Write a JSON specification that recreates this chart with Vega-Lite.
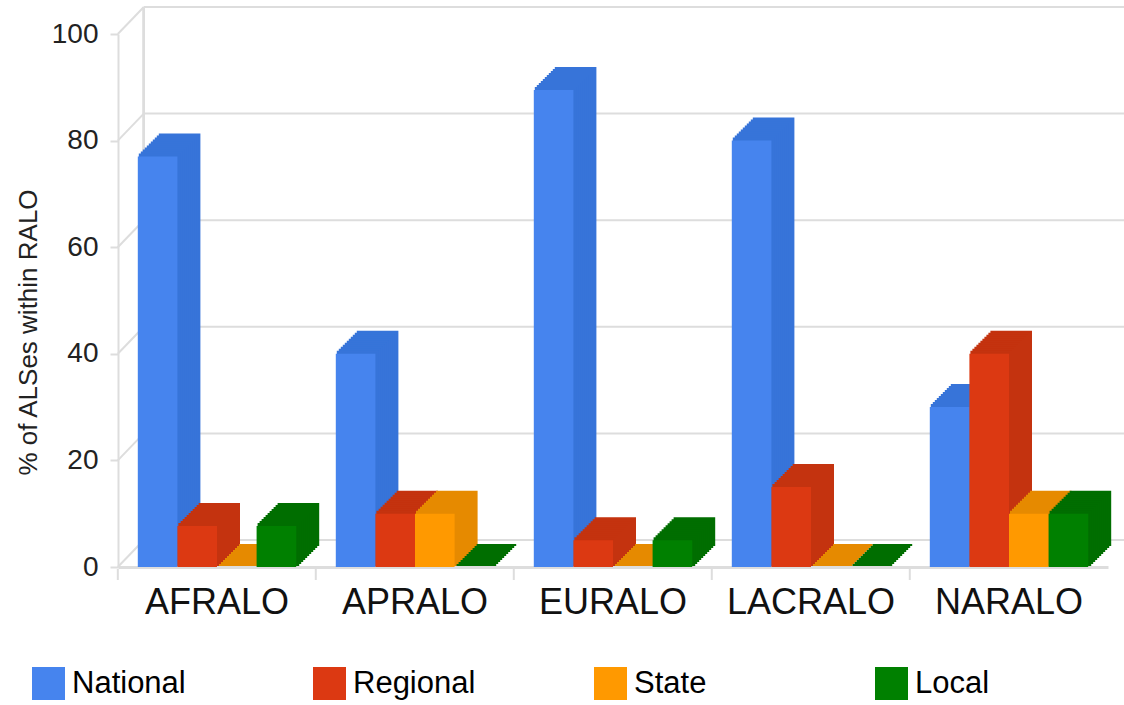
{
  "$schema": "https://vega.github.io/schema/vega-lite/v6.json",
  "width": 990,
  "height": 533,
  "autosize": {"type": "none"},
  "padding": {"left": 118, "top": 34, "right": 16, "bottom": 138},
  "background": "white",
  "config": {
    "font": "Liberation Sans",
    "view": {"stroke": null},
    "bar": {"strokeWidth": 2}
  },
  "datasets": {
    "bars": [
      {"ralo": "AFRALO", "type": "National", "pct": 77},
      {"ralo": "AFRALO", "type": "Regional", "pct": 7.7},
      {"ralo": "AFRALO", "type": "State", "pct": 0},
      {"ralo": "AFRALO", "type": "Local", "pct": 7.7},
      {"ralo": "APRALO", "type": "National", "pct": 40},
      {"ralo": "APRALO", "type": "Regional", "pct": 10},
      {"ralo": "APRALO", "type": "State", "pct": 10},
      {"ralo": "APRALO", "type": "Local", "pct": 0},
      {"ralo": "EURALO", "type": "National", "pct": 89.5},
      {"ralo": "EURALO", "type": "Regional", "pct": 5},
      {"ralo": "EURALO", "type": "State", "pct": 0},
      {"ralo": "EURALO", "type": "Local", "pct": 5},
      {"ralo": "LACRALO", "type": "National", "pct": 80},
      {"ralo": "LACRALO", "type": "Regional", "pct": 15},
      {"ralo": "LACRALO", "type": "State", "pct": 0},
      {"ralo": "LACRALO", "type": "Local", "pct": 0},
      {"ralo": "NARALO", "type": "National", "pct": 30},
      {"ralo": "NARALO", "type": "Regional", "pct": 40},
      {"ralo": "NARALO", "type": "State", "pct": 10},
      {"ralo": "NARALO", "type": "Local", "pct": 10}
    ],
    "grid": [{"v": 0}, {"v": 20}, {"v": 40}, {"v": 60}, {"v": 80}, {"v": 100}],
    "ralos": [{"ralo": "AFRALO"}, {"ralo": "APRALO"}, {"ralo": "EURALO"}, {"ralo": "LACRALO"}, {"ralo": "NARALO"}]
  },
  "layer": [
    {
      "data": {"name": "grid"},
      "mark": {"type": "rule", "color": "#dddddd", "strokeWidth": 2, "xOffset": 6, "x2Offset": 115, "yOffset": -27, "y2Offset": -27},
      "encoding": {
        "x": {"datum": "AFRALO", "bandPosition": 0, "type": "nominal", "title": null,
              "scale": {"domain": ["AFRALO", "APRALO", "EURALO", "LACRALO", "NARALO"], "paddingInner": 0.2, "paddingOuter": 0.1},
              "axis": {"bandPosition": 0.5, "labelAngle": 0, "labelFontSize": 36, "labelColor": "#111111", "labelPadding": 18,
                       "ticks": false, "domainColor": "#dddddd", "domainWidth": 3}},
        "x2": {"datum": "NARALO"},
        "y": {"field": "v", "type": "quantitative", "scale": {"domain": [0, 100]},
              "title": "% of ALSes within RALO",
              "axis": {"values": [0, 20, 40, 60, 80, 100], "grid": false, "labelFontSize": 28, "labelColor": "#222222",
                       "labelPadding": 12, "tickSize": 8, "tickColor": "#dddddd", "tickWidth": 2,
                       "domainColor": "#dddddd", "domainWidth": 2,
                       "titleFontSize": 26, "titleFontWeight": "normal", "titleColor": "#222222", "titlePadding": 10, "titleY": 298}},
        "y2": {"field": "v"}
      }
    },
    {
      "data": {"name": "grid"},
      "mark": {"type": "rule", "color": "#dddddd", "strokeWidth": 2, "xOffset": -20, "x2Offset": 6, "yOffset": 0, "y2Offset": -27},
      "encoding": {
        "x": {"datum": "AFRALO", "bandPosition": 0, "type": "nominal", "title": null},
        "x2": {"datum": "AFRALO", "bandPosition": 0},
        "y": {"field": "v", "type": "quantitative", "title": "% of ALSes within RALO"},
        "y2": {"field": "v"}
      }
    },
    {
      "data": {"name": "grid"},
      "mark": {"type": "rule", "color": "#dddddd", "strokeWidth": 2, "xOffset": 6, "yOffset": -27, "y2Offset": -27},
      "encoding": {
        "x": {"datum": "AFRALO", "bandPosition": 0, "type": "nominal", "title": null},
        "y": {"datum": 0, "type": "quantitative", "title": "% of ALSes within RALO"},
        "y2": {"datum": 100}
      }
    },
    {
      "data": {"name": "ralos"},
      "mark": {"type": "rule", "color": "#dddddd", "strokeWidth": 2, "xOffset": -20, "yOffset": 2, "y2Offset": 13},
      "encoding": {
        "x": {"field": "ralo", "bandPosition": 0, "type": "nominal", "title": null},
        "y": {"datum": 0, "type": "quantitative", "title": "% of ALSes within RALO"},
        "y2": {"datum": 0}
      }
    },
    {"data": {"name": "bars"}, "mark": {"type": "bar", "yOffset": -22, "y2Offset": -22},
     "encoding": {"x": {"field": "ralo", "type": "nominal", "title": null},
      "xOffset": {"field": "type", "type": "nominal", "sort": ["National", "Regional", "State", "Local"], "scale": {"range": [22, 180.4]}},
      "y": {"field": "pct", "type": "quantitative", "title": "% of ALSes within RALO"},
      "color": {"field": "type", "type": "nominal", "legend": null, "scale": {"domain": ["National", "Regional", "State", "Local"], "range": ["#3774d9", "#c4330f", "#e68a00", "#006e00"]}},
      "stroke": {"field": "type", "type": "nominal", "legend": null, "scale": {"domain": ["National", "Regional", "State", "Local"], "range": ["#3774d9", "#c4330f", "#e68a00", "#006e00"]}}}},
    {"data": {"name": "bars"}, "mark": {"type": "bar", "yOffset": -20, "y2Offset": -20},
     "encoding": {"x": {"field": "ralo", "type": "nominal", "title": null},
      "xOffset": {"field": "type", "type": "nominal", "sort": ["National", "Regional", "State", "Local"], "scale": {"range": [20, 178.4]}},
      "y": {"field": "pct", "type": "quantitative", "title": "% of ALSes within RALO"},
      "color": {"field": "type", "type": "nominal", "legend": null, "scale": {"domain": ["National", "Regional", "State", "Local"], "range": ["#3774d9", "#c4330f", "#e68a00", "#006e00"]}},
      "stroke": {"field": "type", "type": "nominal", "legend": null, "scale": {"domain": ["National", "Regional", "State", "Local"], "range": ["#3774d9", "#c4330f", "#e68a00", "#006e00"]}}}},
    {"data": {"name": "bars"}, "mark": {"type": "bar", "yOffset": -18, "y2Offset": -18},
     "encoding": {"x": {"field": "ralo", "type": "nominal", "title": null},
      "xOffset": {"field": "type", "type": "nominal", "sort": ["National", "Regional", "State", "Local"], "scale": {"range": [18, 176.4]}},
      "y": {"field": "pct", "type": "quantitative", "title": "% of ALSes within RALO"},
      "color": {"field": "type", "type": "nominal", "legend": null, "scale": {"domain": ["National", "Regional", "State", "Local"], "range": ["#3774d9", "#c4330f", "#e68a00", "#006e00"]}},
      "stroke": {"field": "type", "type": "nominal", "legend": null, "scale": {"domain": ["National", "Regional", "State", "Local"], "range": ["#3774d9", "#c4330f", "#e68a00", "#006e00"]}}}},
    {"data": {"name": "bars"}, "mark": {"type": "bar", "yOffset": -16, "y2Offset": -16},
     "encoding": {"x": {"field": "ralo", "type": "nominal", "title": null},
      "xOffset": {"field": "type", "type": "nominal", "sort": ["National", "Regional", "State", "Local"], "scale": {"range": [16, 174.4]}},
      "y": {"field": "pct", "type": "quantitative", "title": "% of ALSes within RALO"},
      "color": {"field": "type", "type": "nominal", "legend": null, "scale": {"domain": ["National", "Regional", "State", "Local"], "range": ["#3774d9", "#c4330f", "#e68a00", "#006e00"]}},
      "stroke": {"field": "type", "type": "nominal", "legend": null, "scale": {"domain": ["National", "Regional", "State", "Local"], "range": ["#3774d9", "#c4330f", "#e68a00", "#006e00"]}}}},
    {"data": {"name": "bars"}, "mark": {"type": "bar", "yOffset": -14, "y2Offset": -14},
     "encoding": {"x": {"field": "ralo", "type": "nominal", "title": null},
      "xOffset": {"field": "type", "type": "nominal", "sort": ["National", "Regional", "State", "Local"], "scale": {"range": [14, 172.4]}},
      "y": {"field": "pct", "type": "quantitative", "title": "% of ALSes within RALO"},
      "color": {"field": "type", "type": "nominal", "legend": null, "scale": {"domain": ["National", "Regional", "State", "Local"], "range": ["#3774d9", "#c4330f", "#e68a00", "#006e00"]}},
      "stroke": {"field": "type", "type": "nominal", "legend": null, "scale": {"domain": ["National", "Regional", "State", "Local"], "range": ["#3774d9", "#c4330f", "#e68a00", "#006e00"]}}}},
    {"data": {"name": "bars"}, "mark": {"type": "bar", "yOffset": -12, "y2Offset": -12},
     "encoding": {"x": {"field": "ralo", "type": "nominal", "title": null},
      "xOffset": {"field": "type", "type": "nominal", "sort": ["National", "Regional", "State", "Local"], "scale": {"range": [12, 170.4]}},
      "y": {"field": "pct", "type": "quantitative", "title": "% of ALSes within RALO"},
      "color": {"field": "type", "type": "nominal", "legend": null, "scale": {"domain": ["National", "Regional", "State", "Local"], "range": ["#3774d9", "#c4330f", "#e68a00", "#006e00"]}},
      "stroke": {"field": "type", "type": "nominal", "legend": null, "scale": {"domain": ["National", "Regional", "State", "Local"], "range": ["#3774d9", "#c4330f", "#e68a00", "#006e00"]}}}},
    {"data": {"name": "bars"}, "mark": {"type": "bar", "yOffset": -10, "y2Offset": -10},
     "encoding": {"x": {"field": "ralo", "type": "nominal", "title": null},
      "xOffset": {"field": "type", "type": "nominal", "sort": ["National", "Regional", "State", "Local"], "scale": {"range": [10, 168.4]}},
      "y": {"field": "pct", "type": "quantitative", "title": "% of ALSes within RALO"},
      "color": {"field": "type", "type": "nominal", "legend": null, "scale": {"domain": ["National", "Regional", "State", "Local"], "range": ["#3774d9", "#c4330f", "#e68a00", "#006e00"]}},
      "stroke": {"field": "type", "type": "nominal", "legend": null, "scale": {"domain": ["National", "Regional", "State", "Local"], "range": ["#3774d9", "#c4330f", "#e68a00", "#006e00"]}}}},
    {"data": {"name": "bars"}, "mark": {"type": "bar", "yOffset": -8, "y2Offset": -8},
     "encoding": {"x": {"field": "ralo", "type": "nominal", "title": null},
      "xOffset": {"field": "type", "type": "nominal", "sort": ["National", "Regional", "State", "Local"], "scale": {"range": [8, 166.4]}},
      "y": {"field": "pct", "type": "quantitative", "title": "% of ALSes within RALO"},
      "color": {"field": "type", "type": "nominal", "legend": null, "scale": {"domain": ["National", "Regional", "State", "Local"], "range": ["#3774d9", "#c4330f", "#e68a00", "#006e00"]}},
      "stroke": {"field": "type", "type": "nominal", "legend": null, "scale": {"domain": ["National", "Regional", "State", "Local"], "range": ["#3774d9", "#c4330f", "#e68a00", "#006e00"]}}}},
    {"data": {"name": "bars"}, "mark": {"type": "bar", "yOffset": -6, "y2Offset": -6},
     "encoding": {"x": {"field": "ralo", "type": "nominal", "title": null},
      "xOffset": {"field": "type", "type": "nominal", "sort": ["National", "Regional", "State", "Local"], "scale": {"range": [6, 164.4]}},
      "y": {"field": "pct", "type": "quantitative", "title": "% of ALSes within RALO"},
      "color": {"field": "type", "type": "nominal", "legend": null, "scale": {"domain": ["National", "Regional", "State", "Local"], "range": ["#3774d9", "#c4330f", "#e68a00", "#006e00"]}},
      "stroke": {"field": "type", "type": "nominal", "legend": null, "scale": {"domain": ["National", "Regional", "State", "Local"], "range": ["#3774d9", "#c4330f", "#e68a00", "#006e00"]}}}},
    {"data": {"name": "bars"}, "mark": {"type": "bar", "yOffset": -4, "y2Offset": -4},
     "encoding": {"x": {"field": "ralo", "type": "nominal", "title": null},
      "xOffset": {"field": "type", "type": "nominal", "sort": ["National", "Regional", "State", "Local"], "scale": {"range": [4, 162.4]}},
      "y": {"field": "pct", "type": "quantitative", "title": "% of ALSes within RALO"},
      "color": {"field": "type", "type": "nominal", "legend": null, "scale": {"domain": ["National", "Regional", "State", "Local"], "range": ["#3774d9", "#c4330f", "#e68a00", "#006e00"]}},
      "stroke": {"field": "type", "type": "nominal", "legend": null, "scale": {"domain": ["National", "Regional", "State", "Local"], "range": ["#3774d9", "#c4330f", "#e68a00", "#006e00"]}}}},
    {"data": {"name": "bars"}, "mark": {"type": "bar", "yOffset": -2, "y2Offset": -2},
     "encoding": {"x": {"field": "ralo", "type": "nominal", "title": null},
      "xOffset": {"field": "type", "type": "nominal", "sort": ["National", "Regional", "State", "Local"], "scale": {"range": [2, 160.4]}},
      "y": {"field": "pct", "type": "quantitative", "title": "% of ALSes within RALO"},
      "color": {"field": "type", "type": "nominal", "legend": null, "scale": {"domain": ["National", "Regional", "State", "Local"], "range": ["#3774d9", "#c4330f", "#e68a00", "#006e00"]}},
      "stroke": {"field": "type", "type": "nominal", "legend": null, "scale": {"domain": ["National", "Regional", "State", "Local"], "range": ["#3774d9", "#c4330f", "#e68a00", "#006e00"]}}}},
    {
      "data": {"name": "bars"},
      "mark": {"type": "bar", "strokeWidth": 0},
      "encoding": {
        "x": {"field": "ralo", "type": "nominal", "title": null},
        "xOffset": {"field": "type", "type": "nominal", "sort": ["National", "Regional", "State", "Local"]},
        "y": {"field": "pct", "type": "quantitative", "title": "% of ALSes within RALO"},
        "color": {"field": "type", "type": "nominal", "title": null,
                  "scale": {"domain": ["National", "Regional", "State", "Local"],
                            "range": ["#4684ee", "#dc3912", "#ff9900", "#008000"]},
                  "legend": {"orient": "none", "legendX": -87, "legendY": 632, "direction": "horizontal",
                             "columns": 4, "gridAlign": "all", "columnPadding": 117,
                             "symbolType": "square", "symbolSize": 1089, "symbolStrokeWidth": 0, "symbolOpacity": 1,
                             "labelFontSize": 31, "labelColor": "#000000", "labelOffset": 6, "labelLimit": 300}}
      }
    }
  ],
  "resolve": {"scale": {"color": "independent", "stroke": "independent", "xOffset": "independent"}}
}
